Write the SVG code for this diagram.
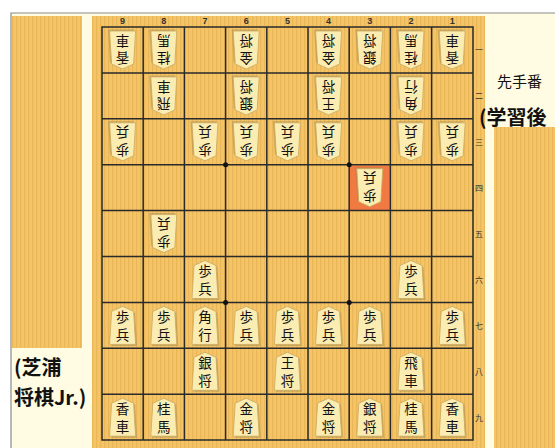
<svg xmlns="http://www.w3.org/2000/svg" width="555" height="448" viewBox="0 0 555 448">
<style>
.k{fill:#FBEDB2;stroke:#C9A85E;stroke-width:0.8}
.sh{fill:#9C8450;opacity:0.45}
.t{font-family:"Noto Sans CJK JP","Noto Sans CJK SC",sans-serif;font-size:13.5px;fill:#111;writing-mode:vertical-rl;letter-spacing:4px}
.lab{font-family:"Liberation Sans",sans-serif;font-size:9px;font-weight:bold;fill:#333;text-anchor:middle}
.rk{font-family:"Noto Sans CJK JP",sans-serif;font-size:8px;fill:#333;text-anchor:middle}
.g{stroke:#2a2a2a;stroke-width:1.5;fill:none}
.side{font-family:"Noto Sans CJK JP","Liberation Sans",sans-serif;fill:#111}
</style>
<defs>
<pattern id="wood" width="4" height="10" patternUnits="userSpaceOnUse">
<rect width="4" height="10" fill="#F4C466"/>
<rect width="1.2" height="10" fill="#E9B658"/>
</pattern>
<g id="koma">
<path class="sh" d="M1.5,-17.5 L12.5,-12.5 L14.5,20.5 L-11.5,20.5 Z"/>
<path class="k" d="M0,-19 L11,-14 L13,19 L-13,19 L-11,-14 Z"/>
</g>
</defs>
<rect width="555" height="448" fill="#FFFFFF"/>
<rect x="11" y="13" width="544" height="435" fill="#FFFCE3"/>
<path d="M11,448 V13 H555" stroke="#8a8a8a" stroke-width="1.2" fill="none"/>
<rect x="12" y="16" width="70" height="332" fill="url(#wood)"/>
<rect x="92" y="16" width="393" height="432" fill="url(#wood)"/>
<rect x="494" y="127" width="61" height="321" fill="url(#wood)"/>
<rect x="350" y="165.5" width="40" height="44.5" fill="#F07A42"/>
<g id="grid">
<rect class="g" x="102" y="27" width="371" height="413"/>
<path class="g" d="M143.2,27V440M184.4,27V440M225.6,27V440M266.8,27V440M308,27V440M349.2,27V440M390.4,27V440M431.6,27V440M102,72.9H473M102,118.8H473M102,164.7H473M102,210.6H473M102,256.5H473M102,302.4H473M102,348.3H473M102,394.2H473"/>
<circle cx="225.6" cy="164.7" r="2.5" fill="#111"/>
<circle cx="349.2" cy="164.7" r="2.5" fill="#111"/>
<circle cx="225.6" cy="302.4" r="2.5" fill="#111"/>
<circle cx="349.2" cy="302.4" r="2.5" fill="#111"/>
</g>
<g id="labels">
<text class="lab" x="122.6" y="24">9</text><text class="lab" x="163.8" y="24">8</text><text class="lab" x="205" y="24">7</text><text class="lab" x="246.2" y="24">6</text><text class="lab" x="287.4" y="24">5</text><text class="lab" x="328.6" y="24">4</text><text class="lab" x="369.8" y="24">3</text><text class="lab" x="411" y="24">2</text><text class="lab" x="452.2" y="24">1</text>
<text class="rk" x="479" y="53">一</text><text class="rk" x="479" y="99">二</text><text class="rk" x="479" y="145">三</text><text class="rk" x="479" y="191">四</text><text class="rk" x="479" y="237">五</text><text class="rk" x="479" y="283">六</text><text class="rk" x="479" y="329">七</text><text class="rk" x="479" y="375">八</text><text class="rk" x="479" y="421">九</text>
</g>
<g id="side-text">
<text class="side" x="497" y="87" font-size="15">先手番</text>
<text class="side" x="479" y="125" font-size="20" font-weight="bold">(学習後</text>
<text class="side" x="14" y="375" font-size="20" font-weight="bold">(芝浦</text>
<text class="side" x="14" y="405" font-size="20" font-weight="bold">将棋Jr.)</text>
</g>
<!-- gote pieces -->
<g id="g91" transform="translate(122.6,50) rotate(180)"><use href="#koma"/><text class="t" x="0" y="-15">香車</text></g>
<g id="g81" transform="translate(163.8,50) rotate(180)"><use href="#koma"/><text class="t" x="0" y="-15">桂馬</text></g>
<g id="g61" transform="translate(246.2,50) rotate(180)"><use href="#koma"/><text class="t" x="0" y="-15">金将</text></g>
<g id="g41" transform="translate(328.6,50) rotate(180)"><use href="#koma"/><text class="t" x="0" y="-15">金将</text></g>
<g id="g31" transform="translate(369.8,50) rotate(180)"><use href="#koma"/><text class="t" x="0" y="-15">銀将</text></g>
<g id="g21" transform="translate(411,50) rotate(180)"><use href="#koma"/><text class="t" x="0" y="-15">桂馬</text></g>
<g id="g11" transform="translate(452.2,50) rotate(180)"><use href="#koma"/><text class="t" x="0" y="-15">香車</text></g>
<g id="g82" transform="translate(163.8,95.9) rotate(180)"><use href="#koma"/><text class="t" x="0" y="-15">飛車</text></g>
<g id="g62" transform="translate(246.2,95.9) rotate(180)"><use href="#koma"/><text class="t" x="0" y="-15">銀将</text></g>
<g id="g42" transform="translate(328.6,95.9) rotate(180)"><use href="#koma"/><text class="t" x="0" y="-15">王将</text></g>
<g id="g22" transform="translate(411,95.9) rotate(180)"><use href="#koma"/><text class="t" x="0" y="-15">角行</text></g>
<g id="g93" transform="translate(122.6,141.8) rotate(180)"><use href="#koma"/><text class="t" x="0" y="-15">歩兵</text></g>
<g id="g73" transform="translate(205,141.8) rotate(180)"><use href="#koma"/><text class="t" x="0" y="-15">歩兵</text></g>
<g id="g63" transform="translate(246.2,141.8) rotate(180)"><use href="#koma"/><text class="t" x="0" y="-15">歩兵</text></g>
<g id="g53" transform="translate(287.4,141.8) rotate(180)"><use href="#koma"/><text class="t" x="0" y="-15">歩兵</text></g>
<g id="g43" transform="translate(328.6,141.8) rotate(180)"><use href="#koma"/><text class="t" x="0" y="-15">歩兵</text></g>
<g id="g23" transform="translate(411,141.8) rotate(180)"><use href="#koma"/><text class="t" x="0" y="-15">歩兵</text></g>
<g id="g13" transform="translate(452.2,141.8) rotate(180)"><use href="#koma"/><text class="t" x="0" y="-15">歩兵</text></g>
<g id="g34" transform="translate(369.8,187.7) rotate(180)"><use href="#koma"/><text class="t" x="0" y="-15">歩兵</text></g>
<g id="g85" transform="translate(163.8,233.6) rotate(180)"><use href="#koma"/><text class="t" x="0" y="-15">歩兵</text></g>
<!-- sente pieces -->
<g id="s76" transform="translate(205,279.5)"><use href="#koma"/><text class="t" x="0" y="-15">歩兵</text></g>
<g id="s26" transform="translate(411,279.5)"><use href="#koma"/><text class="t" x="0" y="-15">歩兵</text></g>
<g id="s97" transform="translate(122.6,325.4)"><use href="#koma"/><text class="t" x="0" y="-15">歩兵</text></g>
<g id="s87" transform="translate(163.8,325.4)"><use href="#koma"/><text class="t" x="0" y="-15">歩兵</text></g>
<g id="s77" transform="translate(205,325.4)"><use href="#koma"/><text class="t" x="0" y="-15">角行</text></g>
<g id="s67" transform="translate(246.2,325.4)"><use href="#koma"/><text class="t" x="0" y="-15">歩兵</text></g>
<g id="s57" transform="translate(287.4,325.4)"><use href="#koma"/><text class="t" x="0" y="-15">歩兵</text></g>
<g id="s47" transform="translate(328.6,325.4)"><use href="#koma"/><text class="t" x="0" y="-15">歩兵</text></g>
<g id="s37" transform="translate(369.8,325.4)"><use href="#koma"/><text class="t" x="0" y="-15">歩兵</text></g>
<g id="s17" transform="translate(452.2,325.4)"><use href="#koma"/><text class="t" x="0" y="-15">歩兵</text></g>
<g id="s78" transform="translate(205,371.3)"><use href="#koma"/><text class="t" x="0" y="-15">銀将</text></g>
<g id="s58" transform="translate(287.4,371.3)"><use href="#koma"/><text class="t" x="0" y="-15">王将</text></g>
<g id="s28" transform="translate(411,371.3)"><use href="#koma"/><text class="t" x="0" y="-15">飛車</text></g>
<g id="s99" transform="translate(122.6,417.2)"><use href="#koma"/><text class="t" x="0" y="-15">香車</text></g>
<g id="s89" transform="translate(163.8,417.2)"><use href="#koma"/><text class="t" x="0" y="-15">桂馬</text></g>
<g id="s69" transform="translate(246.2,417.2)"><use href="#koma"/><text class="t" x="0" y="-15">金将</text></g>
<g id="s49" transform="translate(328.6,417.2)"><use href="#koma"/><text class="t" x="0" y="-15">金将</text></g>
<g id="s39" transform="translate(369.8,417.2)"><use href="#koma"/><text class="t" x="0" y="-15">銀将</text></g>
<g id="s29" transform="translate(411,417.2)"><use href="#koma"/><text class="t" x="0" y="-15">桂馬</text></g>
<g id="s19" transform="translate(452.2,417.2)"><use href="#koma"/><text class="t" x="0" y="-15">香車</text></g>
</svg>
